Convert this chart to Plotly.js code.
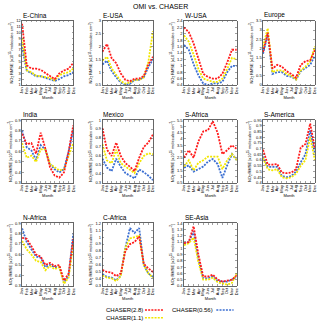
<!DOCTYPE html>
<html>
<head>
<meta charset="utf-8">
<script src="https://cdn.plot.ly/plotly-3.0.1.min.js"></script>
<style>
  html, body { margin: 0; padding: 0; background: #fff; }
  #plot { width: 320px; height: 322px; }
</style>
</head>
<body>
<div id="plot"></div>
<script>
// months on the x axis of every panel
const months = ["Jan", "Feb", "Mar", "Apr", "May", "Jun", "Jul", "Aug", "Sep", "Oct", "Nov", "Dec"];

// one panel per region
const regions = ["E-China", "E-USA", "W-USA", "Europe",
                 "India", "Mexico", "S-Africa", "S-America",
                 "N-Africa", "C-Africa", "SE-Asia"];

// y axis [min, max, step] per region
const yTicks = [[1, 12, 1], [0.5, 3, 0.5], [0.4, 2.4, 0.2], [0, 3.5, 0.5],
                [0.3, 0.9, 0.1], [0.3, 1, 0.1], [0.5, 5.5, 0.5], [0.4, 0.95, 0.05],
                [0.3, 0.9, 0.1], [0.3, 1.2, 0.1], [0.4, 1.4, 0.1]];

// NO2 RMSE, CHASER(2.8) - one row per region
const chaser28 = [
  [11.5, 4.4, 3.8, 3.8, 3.6, 3.1, 2.6, 2.0, 3.0, 3.5, 3.8, 4.8],          // E-China
  [1.8, 2.1, 1.55, 1.35, 0.95, 0.7, 0.65, 0.75, 0.75, 0.85, 1.3, 1.6],     // E-USA
  [2.2, 2.05, 1.7, 1.2, 0.75, 0.65, 0.6, 0.6, 0.75, 1.1, 1.5, 1.5],        // W-USA
  [1.8, 2.85, 0.9, 1.1, 1.0, 0.75, 0.6, 0.4, 1.1, 1.3, 1.35, 1.9],         // Europe
  [0.77, 0.67, 0.68, 0.58, 0.78, 0.63, 0.45, 0.37, 0.35, 0.4, 0.6, 0.85],  // India
  [0.91, 0.67, 0.6, 0.75, 0.6, 0.52, 0.48, 0.43, 0.58, 0.7, 0.75, 0.84],   // Mexico
  [2.5, 3.1, 2.5, 3.8, 4.6, 4.7, 5.4, 4.5, 2.8, 3.1, 3.5, 3.2],            // S-Africa
  [0.69, 0.56, 0.56, 0.565, 0.49, 0.485, 0.49, 0.52, 0.71, 0.74, 0.92, 0.7], // S-America
  [0.76, 0.75, 0.68, 0.6, 0.58, 0.5, 0.52, 0.49, 0.5, 0.35, 0.42, 0.75],   // N-Africa
  [0.53, 0.5, 0.49, 0.44, 0.48, 0.8, 0.9, 0.93, 1.01, 0.62, 0.55, 0.5],    // C-Africa
  [1.08, 1.1, 1.35, 0.9, 0.55, 0.55, 0.58, 0.5, 0.47, 0.48, 0.5, 0.57]     // SE-Asia
];

// NO2 RMSE, CHASER(1.1)
const chaser11 = [
  [9.0, 3.5, 3.2, 2.6, 2.5, 2.4, 2.2, 1.8, 2.7, 3.0, 3.2, 3.8],
  [1.45, 1.6, 1.15, 0.9, 0.65, 0.55, 0.6, 0.7, 0.7, 0.8, 1.4, 2.6],
  [1.95, 1.75, 1.35, 0.9, 0.6, 0.55, 0.5, 0.5, 0.6, 0.9, 1.25, 1.2],
  [2.1, 3.1, 0.7, 0.8, 0.8, 0.6, 0.5, 0.3, 0.8, 1.0, 1.3, 2.1],
  [0.68, 0.54, 0.56, 0.5, 0.62, 0.62, 0.48, 0.45, 0.42, 0.43, 0.55, 0.68],
  [0.73, 0.55, 0.52, 0.67, 0.52, 0.48, 0.45, 0.41, 0.52, 0.6, 0.63, 0.62],
  [1.8, 2.3, 1.5, 2.1, 2.3, 2.6, 2.6, 2.6, 1.6, 2.3, 2.8, 2.3],
  [0.62, 0.52, 0.51, 0.52, 0.45, 0.44, 0.45, 0.48, 0.55, 0.6, 0.8, 0.6],
  [0.73, 0.65, 0.6, 0.54, 0.53, 0.45, 0.49, 0.46, 0.48, 0.32, 0.38, 0.7],
  [0.45, 0.42, 0.41, 0.37, 0.44, 0.85, 0.98, 1.0, 1.02, 0.6, 0.48, 0.42],
  [1.05, 1.08, 1.17, 0.78, 0.5, 0.5, 0.53, 0.46, 0.44, 0.42, 0.45, 0.6]
];

// NO2 RMSE, CHASER(0.56)
const chaser056 = [
  [7.5, 3.5, 3.0, 2.5, 2.5, 2.2, 2.0, 1.7, 2.0, 2.5, 2.7, 3.2],
  [1.3, 1.45, 1.05, 0.8, 0.6, 0.5, 0.55, 0.7, 0.7, 0.8, 1.2, 1.5],
  [1.65, 1.5, 1.05, 0.7, 0.45, 0.4, 0.45, 0.45, 0.5, 0.8, 1.0, 1.0],
  [1.7, 2.8, 0.6, 0.7, 0.7, 0.5, 0.45, 0.3, 0.75, 0.95, 1.1, 1.6],
  [0.8, 0.64, 0.61, 0.52, 0.66, 0.62, 0.48, 0.43, 0.4, 0.43, 0.6, 0.8],
  [0.57, 0.47, 0.43, 0.57, 0.48, 0.41, 0.38, 0.35, 0.45, 0.42, 0.38, 0.33],
  [1.7, 1.9, 1.4, 1.6, 1.8, 2.2, 2.4, 2.0, 0.9, 1.9, 2.8, 2.3],
  [0.63, 0.54, 0.54, 0.54, 0.46, 0.45, 0.46, 0.5, 0.58, 0.65, 0.86, 0.66],
  [0.85, 0.72, 0.65, 0.58, 0.57, 0.48, 0.5, 0.48, 0.48, 0.33, 0.4, 0.8],
  [0.47, 0.43, 0.42, 0.38, 0.45, 0.85, 1.13, 1.06, 1.13, 0.6, 0.48, 0.43],
  [1.06, 1.1, 1.27, 0.83, 0.52, 0.52, 0.55, 0.48, 0.47, 0.47, 0.5, 0.55]
];

const seriesNames = ["CHASER(2.8)", "CHASER(0.56)", "CHASER(1.1)"];
const seriesData = [chaser28, chaser056, chaser11];
const seriesColors = ["#ff1a1a", "#3b6fd2", "#f2e600"];

// panel placement in paper coords
const colX = [[0.069, 0.229], [0.32, 0.478], [0.575, 0.74], [0.822, 0.984]];
const rowY = [[0.736, 0.935], [0.432, 0.627], [0.112, 0.307]];

const font = "Liberation Sans, Arial, sans-serif";
let data = [];
let layout = {
    width: 320,
    height: 322,
    margin: { l: 0, r: 0, t: 0, b: 0 },
    paper_bgcolor: "#fff",
    plot_bgcolor: "#fff",
    showlegend: false,
    font: { family: font, color: "#000" },
    annotations: [{
        text: "OMI vs. CHASER", xref: "paper", yref: "paper",
        x: 0.5, y: 0.997, xanchor: "center", yanchor: "top",
        showarrow: false, font: { size: 7, color: "#000" }
    }],
    shapes: []
};

regions.forEach(function(name, i) {
    let n = i + 1;
    let suffix = n === 1 ? "" : n;
    let col = i % 4, row = Math.floor(i / 4);
    let t = yTicks[i];

    // draw blue, yellow, then red on top
    [1, 2, 0].forEach(function(s) {
        data.push({
            x: months.map((m, k) => k),
            y: seriesData[s][i],
            name: seriesNames[s],
            type: "scatter",
            mode: "lines",
            xaxis: "x" + suffix,
            yaxis: "y" + suffix,
            line: { color: seriesColors[s], width: 1.8, dash: "2px,1.2px" },
            hoverinfo: "skip"
        });
    });

    layout["xaxis" + suffix] = {
        domain: colX[col],
        anchor: "y" + suffix,
        range: [0, 11],
        tickvals: months.map((m, k) => k),
        ticktext: months,
        tickangle: -90,
        ticks: "inside",
        ticklen: 1.5,
        tickwidth: 0.5,
        tickfont: { size: 4, color: "#000" },
        showline: true, mirror: "ticks", linecolor: "#000", linewidth: 0.6,
        showgrid: false, zeroline: false,
        title: { text: "Month", font: { size: 4, color: "#000" }, standoff: 2 }
    };
    layout["yaxis" + suffix] = {
        domain: rowY[row],
        anchor: "x" + suffix,
        range: [t[0], t[1]],
        tick0: t[0],
        dtick: t[2],
        ticks: "inside",
        ticklen: 1.5,
        tickwidth: 0.5,
        tickfont: { size: 4, color: "#000" },
        showline: true, mirror: "ticks", linecolor: "#000", linewidth: 0.6,
        showgrid: false, zeroline: false,
        title: { text: "NO<sub>2</sub> RMSE [x10<sup>15</sup> molecules cm<sup>-2</sup>]", font: { size: 4, color: "#000" }, standoff: 2 }
    };
    layout.annotations.push({
        text: name, xref: "paper", yref: "paper",
        x: colX[col][0], y: rowY[row][1], xanchor: "left", yanchor: "bottom",
        showarrow: false, font: { size: 6.5, color: "#000" }, xshift: -1, yshift: 0
    });
});

// legend: label followed by a dotted line sample
const legendPos = [[0.331, 0.037], [0.537, 0.037], [0.331, 0.013]];
const sampleX = [[0.453, 0.512], [0.676, 0.73], [0.453, 0.512]];
seriesNames.forEach(function(name, s) {
    let p = legendPos[s];
    layout.annotations.push({
        text: name, xref: "paper", yref: "paper",
        x: p[0], y: p[1], xanchor: "left", yanchor: "middle",
        showarrow: false, font: { size: 6, color: "#000" }, xshift: -2
    });
    layout.shapes.push({
        type: "line", xref: "paper", yref: "paper",
        x0: sampleX[s][0], x1: sampleX[s][1],
        y0: p[1], y1: p[1],
        line: { color: seriesColors[s], width: 1.5, dash: "2px,1.2px" }
    });
});

Plotly.newPlot("plot", data, layout, { staticPlot: true, displayModeBar: false });
</script>
</body>
</html>
